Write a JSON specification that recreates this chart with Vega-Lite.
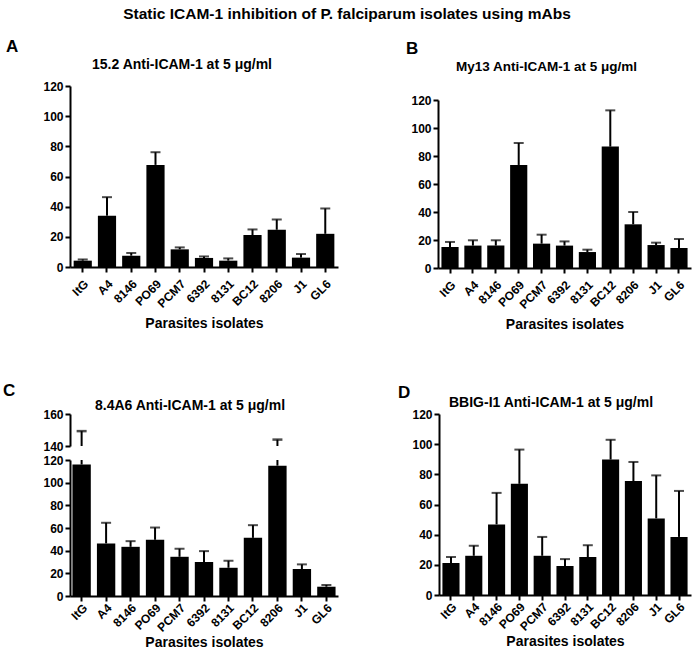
{
  "$schema": "https://vega.github.io/schema/vega-lite/v6.json",
  "padding": {"left": 3, "top": 6, "right": 5, "bottom": 2},
  "title": {"text": "Static ICAM-1 inhibition of  P. falciparum  isolates using mAbs", "fontSize": 15.5, "anchor": "middle", "offset": 16},
  "datasets": {
    "A": [
      {"isolate": "ItG", "mean": 4.2, "upper": 5},
      {"isolate": "A4", "mean": 34, "upper": 46.3},
      {"isolate": "8146", "mean": 7.5, "upper": 9.3},
      {"isolate": "PO69", "mean": 67.7, "upper": 76.1},
      {"isolate": "PCM7", "mean": 11.7, "upper": 13},
      {"isolate": "6392", "mean": 6, "upper": 7},
      {"isolate": "8131", "mean": 4.2, "upper": 5.7},
      {"isolate": "BC12", "mean": 21.2, "upper": 24.9},
      {"isolate": "8206", "mean": 24.7, "upper": 31.5},
      {"isolate": "J1", "mean": 6.2, "upper": 8.6},
      {"isolate": "GL6", "mean": 22, "upper": 38.8}
    ],
    "B": [
      {"isolate": "ItG", "mean": 15, "upper": 18.6},
      {"isolate": "A4", "mean": 16, "upper": 19.8},
      {"isolate": "8146", "mean": 16, "upper": 19.8},
      {"isolate": "PO69", "mean": 73.6, "upper": 89.3},
      {"isolate": "PCM7", "mean": 17.4, "upper": 23.8},
      {"isolate": "6392", "mean": 16, "upper": 19},
      {"isolate": "8131", "mean": 11.4, "upper": 13.1},
      {"isolate": "BC12", "mean": 86.7, "upper": 112.6},
      {"isolate": "8206", "mean": 31.2, "upper": 40},
      {"isolate": "J1", "mean": 16.4, "upper": 18.1},
      {"isolate": "GL6", "mean": 14.3, "upper": 20.7}
    ],
    "C": [
      {"isolate": "ItG", "mean": 116, "upper": 149.3},
      {"isolate": "A4", "mean": 46.4, "upper": 64.6},
      {"isolate": "8146", "mean": 43.4, "upper": 48.4},
      {"isolate": "PO69", "mean": 49.6, "upper": 60.4},
      {"isolate": "PCM7", "mean": 34.6, "upper": 41.7},
      {"isolate": "6392", "mean": 29.9, "upper": 39.6},
      {"isolate": "8131", "mean": 24.9, "upper": 31.1},
      {"isolate": "BC12", "mean": 51.3, "upper": 62.5},
      {"isolate": "8206", "mean": 115, "upper": 144},
      {"isolate": "J1", "mean": 23.8, "upper": 27.9},
      {"isolate": "GL6", "mean": 8.2, "upper": 9.7}
    ],
    "D": [
      {"isolate": "ItG", "mean": 21.2, "upper": 25.2},
      {"isolate": "A4", "mean": 26, "upper": 32.7},
      {"isolate": "8146", "mean": 46.8, "upper": 67.7},
      {"isolate": "PO69", "mean": 73.7, "upper": 96.4},
      {"isolate": "PCM7", "mean": 26, "upper": 38.5},
      {"isolate": "6392", "mean": 19.2, "upper": 23.8},
      {"isolate": "8131", "mean": 25.2, "upper": 33},
      {"isolate": "BC12", "mean": 89.8, "upper": 102.9},
      {"isolate": "8206", "mean": 75.5, "upper": 88.2},
      {"isolate": "J1", "mean": 50.8, "upper": 79.3},
      {"isolate": "GL6", "mean": 38.5, "upper": 69}
    ]
  },
  "vconcat": [
    {
      "spacing": 67,
      "hconcat": [
        {
          "title": {"text": "A", "anchor": "start", "fontSize": 17, "offset": 2},
          "vconcat": [
            {
              "title": {"text": "15.2 Anti-ICAM-1 at 5 μg/ml", "fontSize": 14, "offset": 8, "dx": -22},
              "data": {"name": "A"},
              "width": 268,
              "height": 181,
              "encoding": {
                "x": {"field": "isolate", "type": "nominal", "sort": null, "scale": {"paddingInner": 0.25, "paddingOuter": 0.15}, "axis": {"labelAngle": -45, "title": "Parasites isolates", "labelPadding": 6, "titlePadding": 7}}
              },
              "layer": [
                {"mark": {"type": "bar", "color": "black"}, "encoding": {"y": {"field": "mean", "type": "quantitative", "scale": {"domain": [0, 120], "nice": false}, "axis": {"values": [0, 20, 40, 60, 80, 100, 120], "minExtent": 64, "title": null}}}},
                {"mark": {"type": "rule", "color": "black", "strokeWidth": 2, "clip": true}, "encoding": {"y": {"field": "mean", "type": "quantitative", "axis": {"values": [0, 20, 40, 60, 80, 100, 120], "minExtent": 64, "title": null}}, "y2": {"field": "upper"}}},
                {"mark": {"type": "tick", "color": "black", "thickness": 2, "size": 10, "clip": true}, "encoding": {"y": {"field": "upper", "type": "quantitative", "axis": {"values": [0, 20, 40, 60, 80, 100, 120], "minExtent": 64, "title": null}}}}
              ]
            }
          ]
        },
        {
          "title": {"text": "B", "anchor": "start", "fontSize": 17, "offset": 2, "dx": -5},
          "spacing": 4,
          "vconcat": [
            {
              "title": {"text": "My13 Anti-ICAM-1 at 5 μg/ml", "fontSize": 13.5, "offset": 10, "dx": -18},
              "data": {"values": [{"s": 1}]},
              "width": 253,
              "height": 1,
              "mark": {"type": "point", "opacity": 0}
            },
            {
              "data": {"name": "B"},
              "width": 253,
              "height": 168,
              "encoding": {
                "x": {"field": "isolate", "type": "nominal", "sort": null, "scale": {"paddingInner": 0.25, "paddingOuter": 0.15}, "axis": {"labelAngle": -45, "title": "Parasites isolates", "labelPadding": 6, "titlePadding": 7}}
              },
              "layer": [
                {"mark": {"type": "bar", "color": "black"}, "encoding": {"y": {"field": "mean", "type": "quantitative", "scale": {"domain": [0, 120], "nice": false}, "axis": {"values": [0, 20, 40, 60, 80, 100, 120], "minExtent": 27, "title": null}}}},
                {"mark": {"type": "rule", "color": "black", "strokeWidth": 2, "clip": true}, "encoding": {"y": {"field": "mean", "type": "quantitative", "axis": {"values": [0, 20, 40, 60, 80, 100, 120], "minExtent": 27, "title": null}}, "y2": {"field": "upper"}}},
                {"mark": {"type": "tick", "color": "black", "thickness": 2, "size": 10, "clip": true}, "encoding": {"y": {"field": "upper", "type": "quantitative", "axis": {"values": [0, 20, 40, 60, 80, 100, 120], "minExtent": 27, "title": null}}}}
              ]
            }
          ]
        }
      ]
    },
    {
      "spacing": 60,
      "hconcat": [
        {
          "title": {"text": "C", "anchor": "start", "fontSize": 17, "offset": -1},
          "spacing": 2,
          "vconcat": [
            {
              "title": {"text": "8.4A6 Anti-ICAM-1 at 5 μg/ml", "fontSize": 14, "offset": -5, "dx": -14},
              "data": {"name": "C"},
              "width": 268,
              "height": 32,
              "encoding": {
                "x": {"field": "isolate", "type": "nominal", "sort": null, "scale": {"paddingInner": 0.25, "paddingOuter": 0.1}, "axis": null}
              },
              "layer": [
                {"mark": {"type": "rule", "color": "black", "strokeWidth": 2, "clip": true}, "encoding": {"y": {"field": "mean", "type": "quantitative", "scale": {"domain": [140, 160], "nice": false}, "axis": {"values": [140, 160], "minExtent": 67, "title": null}}, "y2": {"field": "upper"}}},
                {"mark": {"type": "tick", "color": "black", "thickness": 2.5, "size": 10, "clip": true}, "encoding": {"y": {"field": "upper", "type": "quantitative", "axis": {"values": [140, 160], "minExtent": 67, "title": null}}}}
              ]
            },
            {
              "data": {"name": "C"},
              "width": 268,
              "height": 136,
              "encoding": {
                "x": {"field": "isolate", "type": "nominal", "sort": null, "scale": {"paddingInner": 0.25, "paddingOuter": 0.1}, "axis": {"labelAngle": -45, "title": "Parasites isolates", "labelPadding": 1, "titlePadding": 2}}
              },
              "layer": [
                {"mark": {"type": "bar", "color": "black"}, "encoding": {"y": {"field": "mean", "type": "quantitative", "scale": {"domain": [0, 120], "nice": false}, "axis": {"values": [0, 20, 40, 60, 80, 100, 120], "minExtent": 67, "title": null}}}},
                {"mark": {"type": "rule", "color": "black", "strokeWidth": 2, "clip": true}, "encoding": {"y": {"field": "mean", "type": "quantitative", "axis": {"values": [0, 20, 40, 60, 80, 100, 120], "minExtent": 67, "title": null}}, "y2": {"field": "upper"}}},
                {"mark": {"type": "tick", "color": "black", "thickness": 2, "size": 10, "clip": true}, "encoding": {"y": {"field": "upper", "type": "quantitative", "axis": {"values": [0, 20, 40, 60, 80, 100, 120], "minExtent": 67, "title": null}}}}
              ]
            }
          ]
        },
        {
          "title": {"text": "D", "anchor": "start", "fontSize": 17, "offset": -6, "dx": -6},
          "vconcat": [
            {
              "title": {"text": "BBIG-I1 Anti-ICAM-1 at 5 μg/ml", "fontSize": 14, "offset": -2, "dx": -14},
              "data": {"name": "D"},
              "width": 252,
              "height": 181,
              "encoding": {
                "x": {"field": "isolate", "type": "nominal", "sort": null, "scale": {"paddingInner": 0.25, "paddingOuter": 0.15}, "axis": {"labelAngle": -45, "title": "Parasites isolates", "labelPadding": 1, "titlePadding": 2}}
              },
              "layer": [
                {"mark": {"type": "bar", "color": "black"}, "encoding": {"y": {"field": "mean", "type": "quantitative", "scale": {"domain": [0, 120], "nice": false}, "axis": {"values": [0, 20, 40, 60, 80, 100, 120], "minExtent": 35, "title": null}}}},
                {"mark": {"type": "rule", "color": "black", "strokeWidth": 2, "clip": true}, "encoding": {"y": {"field": "mean", "type": "quantitative", "axis": {"values": [0, 20, 40, 60, 80, 100, 120], "minExtent": 35, "title": null}}, "y2": {"field": "upper"}}},
                {"mark": {"type": "tick", "color": "black", "thickness": 2, "size": 10, "clip": true}, "encoding": {"y": {"field": "upper", "type": "quantitative", "axis": {"values": [0, 20, 40, 60, 80, 100, 120], "minExtent": 35, "title": null}}}}
              ]
            }
          ]
        }
      ]
    }
  ],
  "spacing": 50,
  "config": {
    "view": {"stroke": null},
    "font": "Liberation Sans",
    "title": {"font": "Liberation Sans", "fontWeight": "bold", "color": "black"},
    "axis": {
      "grid": false,
      "domainColor": "black",
      "domainWidth": 2,
      "tickColor": "black",
      "tickWidth": 2,
      "tickSize": 5,
      "labelFont": "Liberation Sans",
      "labelFontWeight": "bold",
      "labelFontSize": 12,
      "labelColor": "black",
      "labelOverlap": false,
      "titleFont": "Liberation Sans",
      "titleFontWeight": "bold",
      "titleFontSize": 14,
      "titleColor": "black"
    },
    "axisY": {"labelPadding": 2}
  }
}
